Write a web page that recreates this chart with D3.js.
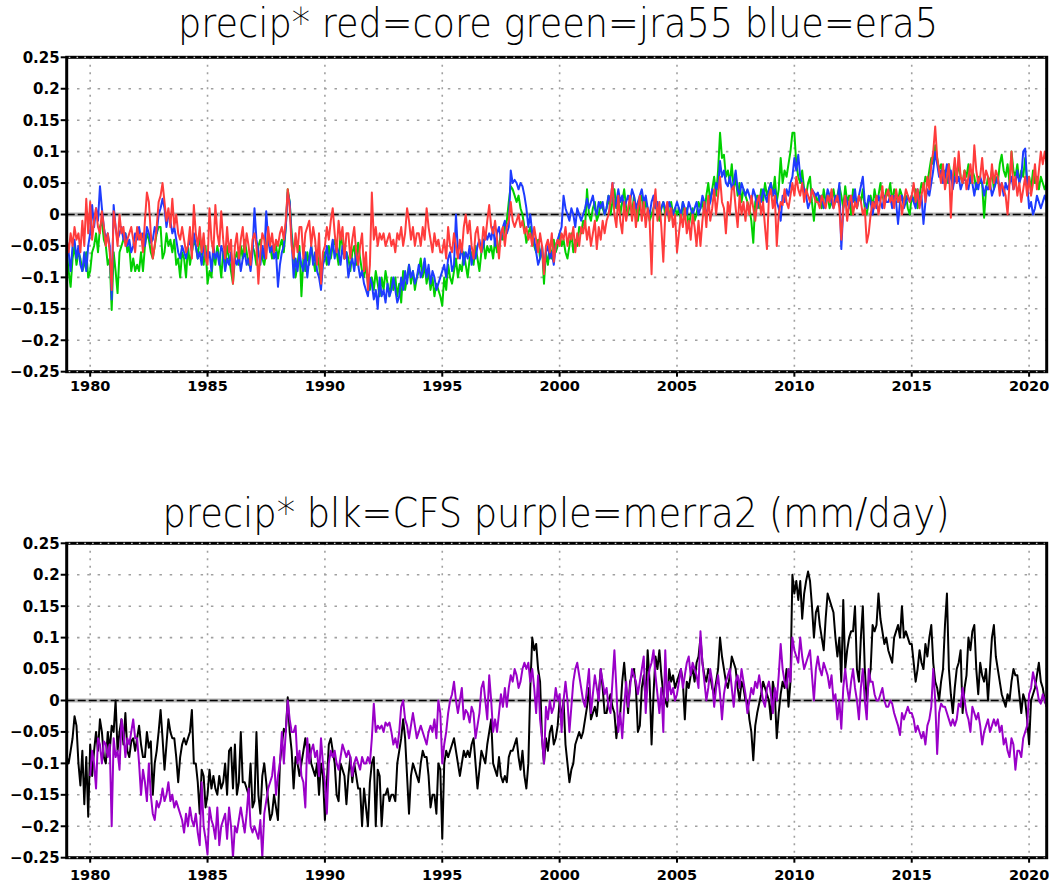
<!DOCTYPE html>
<html>
<head>
<meta charset="utf-8">
<script src="https://cdn.jsdelivr.net/npm/d3@7"></script>
<style>
  body { margin: 0; background: #fff; }
</style>
</head>
<body>
<div id="chart"></div>
<script>
// monthly precip anomalies (mm/day), Jan 1979 .. Oct 2020, one row per year
var startYear = 1979;
var yearTicks = [1980, 1985, 1990, 1995, 2000, 2005, 2010, 2015, 2020];
var valueTicks = [0.25, 0.2, 0.15, 0.1, 0.05, 0, -0.05, -0.1, -0.15, -0.2, -0.25];
var valueLabels = ["0.25", "0.2", "0.15", "0.1", "0.05", "0", "\u22120.05", "\u22120.1", "\u22120.15", "\u22120.2", "\u22120.25"];

var core = [
  -.04,-.06,-.03,-.05,-.02,-.04,-.03,-.06,-.01,-.05,.025,-.03,
  .02,-.04,-.01,.01,-.02,-.03,.005,-.02,-.05,-.03,-.06,-.12,
  .005,-.02,-.05,0,-.03,-.02,-.05,-.04,-.03,-.02,-.04,-.06,
  -.02,-.04,-.03,-.06,-.01,.035,.02,-.03,-.07,-.05,-.02,.02,
  .03,.05,.02,-.01,.01,-.02,.025,-.02,0,-.03,-.04,-.02,
  -.04,-.06,-.05,-.02,-.07,.015,-.03,-.05,-.02,-.06,-.03,-.07,
  -.08,.01,-.04,-.06,.015,-.03,-.05,.005,-.04,-.07,-.02,-.06,
  -.04,-.11,-.05,-.03,-.07,-.04,-.02,-.06,-.03,-.05,-.08,-.04,
  -.03,-.05,-.11,-.06,-.03,-.04,-.07,-.02,-.05,-.03,-.06,-.04,
  -.05,-.03,-.02,-.04,-.01,.04,.01,-.05,-.07,-.03,-.06,-.02,
  -.02,-.07,-.03,-.02,-.01,-.05,-.02,-.04,-.08,-.03,-.11,-.06,
  -.05,-.02,-.04,-.01,.01,-.03,-.06,-.01,-.04,-.02,-.07,-.03,
  -.03,-.07,-.04,-.02,-.06,-.08,-.05,-.03,-.09,-.06,-.12,-.08,
  .035,-.04,-.02,-.05,-.03,-.04,-.03,-.05,-.04,-.03,-.05,-.04,
  -.06,-.03,-.04,-.02,-.05,-.03,.01,-.01,-.04,-.02,-.05,-.03,
  -.03,-.05,-.02,-.04,.01,-.02,-.04,-.06,-.03,-.05,-.04,-.06,
  -.06,-.04,-.07,-.02,-.05,-.06,-.03,-.05,-.07,-.04,-.06,-.02,
  0,-.03,-.01,-.05,-.07,-.03,-.02,-.05,-.06,-.02,-.04,-.01,
  .015,-.02,-.03,-.01,-.04,-.07,-.03,-.02,-.05,-.02,-.01,.02,
  -.01,-.02,-.01,0,-.02,-.01,-.03,-.02,-.04,-.03,-.05,-.02,
  -.04,-.06,-.03,-.05,-.095,-.05,-.04,-.06,-.03,-.075,-.05,-.04,
  -.05,-.03,-.04,-.02,-.05,-.03,-.04,-.02,-.06,-.03,-.05,-.02,
  -.03,-.01,-.04,-.02,-.05,-.03,-.01,-.055,-.02,-.04,-.01,-.03,
  -.01,0,.02,.05,0,-.02,.03,-.01,-.03,.02,-.01,.01,
  .03,-.01,.02,-.02,.01,.03,-.01,.02,-.02,.01,-.01,-.095,
  .01,.04,-.01,.02,-.02,-.075,0,.02,-.01,.01,-.02,0,
  -.06,-.03,0,-.02,.01,-.03,-.01,-.04,0,-.02,-.05,-.01,
  -.05,-.01,.02,-.02,.03,-.01,.01,.04,0,.03,.06,.02,
  .01,-.03,.02,0,.04,.045,.01,-.02,.03,0,.02,-.01,
  .02,0,.03,.01,-.01,.02,.03,0,.02,-.02,-.055,.03,
  .04,.01,.03,-.05,0,.02,.015,.04,.02,.01,.03,.05,
  .03,.06,.04,.03,.05,.02,.04,.03,.02,.04,.03,.02,
  .02,.01,.03,.02,.01,.03,.02,.04,.01,.02,.03,.01,
  -.04,.01,.03,-.01,.02,.03,0,.02,.01,.03,.02,0,
  .01,-.045,-.03,0,.02,.01,.03,0,.02,.045,.01,.03,
  .04,.02,.03,.01,.04,.02,.03,0,.02,.04,.03,.02,
  .03,.05,.02,.04,.01,.03,.05,.02,.06,.04,.08,.1,
  .14,.09,.07,.05,.08,.04,.06,.08,-.005,.06,.09,.05,
  .1,.06,.05,.07,.04,.06,.08,.05,.11,.07,.05,.06,
  .09,.05,.07,.06,.04,.08,.05,.07,.06,.03,.05,.04,
  .03,0,.05,.1,.04,.06,.03,.05,.02,.04,.06,.03,
  .06,.03,.05,.08,.04,.07,.1,.08,.1,.08
];

var jra55 = [
  -.06,-.09,-.115,-.07,-.05,-.08,-.06,-.07,-.09,-.08,-.06,-.1,
  -.09,-.06,-.05,-.03,-.06,-.02,-.01,-.04,-.05,-.08,-.07,-.152,
  -.06,-.09,-.125,-.06,-.05,-.04,-.03,-.06,-.05,-.09,-.07,-.09,
  -.08,-.09,-.06,-.09,-.05,-.03,-.04,-.06,-.07,-.05,-.03,-.02,
  -.02,-.07,-.06,-.03,-.05,-.04,-.06,-.04,-.08,-.07,-.1,-.06,
  -.07,-.1,-.05,-.08,-.06,-.04,-.05,-.07,-.03,-.06,-.08,-.05,
  -.11,-.09,-.1,-.06,-.08,-.05,-.07,-.1,-.06,-.08,-.05,-.07,
  -.09,-.11,-.07,-.06,-.08,-.05,-.07,-.04,-.06,-.08,-.07,-.05,
  -.06,-.08,-.05,-.04,-.07,-.08,-.06,-.03,-.05,-.07,-.06,-.05,
  -.07,-.05,-.04,-.06,-.02,.04,.02,-.03,-.06,-.1,-.08,-.05,
  -.13,-.07,-.09,-.06,-.08,-.05,-.07,-.09,-.06,-.08,-.11,-.07,
  -.06,-.08,-.05,-.07,-.05,-.04,-.06,-.08,-.03,-.05,-.07,-.06,
  -.07,-.09,-.06,-.05,-.08,-.045,-.07,-.09,-.1,-.08,-.11,-.12,
  -.1,-.12,-.09,-.11,-.13,-.1,-.12,-.09,-.11,-.13,-.1,-.12,
  -.1,-.13,-.11,-.14,-.09,-.12,-.1,-.08,-.11,-.09,-.12,-.1,
  -.09,-.07,-.1,-.08,-.11,-.09,-.12,-.1,-.13,-.11,-.12,-.13,
  -.145,-.1,-.12,-.08,-.1,-.11,-.09,-.07,-.1,-.08,-.09,-.06,
  -.08,-.1,-.07,-.06,-.08,-.05,-.07,-.09,-.06,-.04,-.07,-.05,
  -.06,-.05,-.07,-.04,-.06,-.05,-.03,-.04,-.02,-.01,.02,.045,
  .04,.03,.02,.03,.01,0,-.02,-.045,-.03,-.02,-.04,-.05,
  -.06,-.04,-.07,-.05,-.11,-.06,-.08,-.05,-.07,-.04,-.06,-.05,
  -.03,-.05,-.04,-.06,-.07,-.05,-.03,-.06,-.04,-.05,-.02,-.03,
  -.01,-.02,.04,0,-.01,.01,.02,-.01,0,.02,.01,0,
  .01,.03,0,.02,.04,.01,.03,0,.02,.04,.01,0,
  .02,0,.03,.01,-.01,.02,.03,0,.02,.01,-.01,0,
  .01,.02,0,-.01,.01,.02,0,.01,-.01,.02,0,.01,
  0,.01,-.01,.02,0,.01,-.02,0,.01,-.01,0,.02,
  .01,.02,0,.03,.05,.02,.04,.06,.03,.07,.13,.09,
  .095,.06,.07,.05,.08,.04,.06,.03,.05,.02,.04,.03,
  .02,.01,-.01,-.045,.02,.03,.01,.04,.02,.05,.03,.04,
  .05,.03,.06,.02,.04,.09,.05,.07,.06,.08,.1,.13,
  .13,.08,.06,.05,.07,.04,.03,.05,.06,.02,-.01,.03,
  .02,.03,.01,.04,.02,.03,.01,.02,.04,.02,.03,.045,
  .03,.01,.045,.02,.03,0,.04,.02,.01,.03,.02,.04,
  .01,0,.02,.03,.01,.04,.02,.03,.05,.03,.02,.04,
  .03,.05,.02,.04,.03,.02,.04,.03,.02,.03,.01,0,
  .03,.02,.04,.01,.03,.05,.04,.06,.05,.07,.09,.08,
  .11,.09,.07,.08,.06,.07,.05,.08,.06,.05,.07,.06,
  .08,.06,.05,.07,.06,.08,.05,.07,.06,.04,.06,.05,
  .05,-.005,.04,.06,.05,.07,.04,.06,.05,.08,.095,.07,
  .06,.08,.05,.1,.07,.06,.08,.05,.07,.06,.09,.05,
  .06,.04,.07,.05,.06,.04,.06,.05,.04,.05
];

var era5 = [
  -.04,-.06,-.09,-.05,-.04,-.07,-.05,-.08,-.09,-.06,-.09,-.05,
  -.03,.015,-.02,.01,-.01,.045,.01,-.02,-.04,-.03,-.05,-.135,
  .015,-.02,-.04,-.03,-.02,-.04,-.03,-.05,-.04,-.06,-.05,-.03,
  -.04,-.02,-.04,-.03,-.05,-.02,-.03,-.045,-.04,-.02,-.03,0,
  .01,.025,.01,-.02,0,-.01,-.03,-.02,-.04,-.06,-.07,-.05,
  -.06,-.07,-.05,-.04,-.06,-.03,-.05,-.07,-.06,-.08,-.05,-.06,
  -.07,-.06,-.09,-.05,-.07,-.06,-.08,-.05,-.06,-.09,-.07,-.08,
  -.06,-.095,-.07,-.08,-.065,-.09,-.07,-.06,-.08,-.07,-.09,-.06,
  .01,-.04,-.06,-.08,-.05,-.07,.005,-.04,-.06,-.05,-.07,-.06,
  -.115,-.08,-.06,-.05,-.02,.035,.02,-.04,-.1,-.07,-.09,-.06,
  -.08,-.09,-.06,-.1,-.07,-.05,-.08,-.06,-.09,-.1,-.12,-.08,
  -.07,-.05,-.08,-.06,-.04,-.07,-.05,-.06,-.08,-.05,-.07,-.06,
  -.1,-.08,-.07,-.09,-.06,-.08,-.1,-.09,-.11,-.12,-.13,-.1,
  -.11,-.135,-.12,-.15,-.1,-.13,-.12,-.14,-.11,-.13,-.12,-.1,
  -.12,-.14,-.13,-.1,-.12,-.09,-.11,-.08,-.1,-.09,-.11,-.1,
  -.08,-.1,-.09,-.07,-.1,-.08,-.11,-.09,-.1,-.12,-.11,-.1,
  -.09,-.08,-.1,-.07,-.06,-.09,-.08,0,-.06,-.07,-.05,-.08,
  -.06,-.07,-.05,-.08,-.06,-.07,-.05,-.04,-.06,-.05,-.03,-.04,
  -.03,-.04,-.02,-.05,-.03,-.02,-.04,-.02,-.01,-.03,-.02,.07,
  .05,.055,.05,.04,.05,.045,.03,.01,-.02,0,-.03,-.04,
  -.06,-.08,-.07,-.05,-.09,-.06,-.05,-.07,-.06,-.08,-.05,-.04,
  -.03,-.02,.03,.01,0,-.01,.01,0,-.02,.01,0,-.01,
  0,.01,.025,.01,.02,.03,.01,0,.02,.01,.02,0,
  .01,.03,.02,.05,.01,.02,.04,.02,.03,.01,.02,.03,
  .02,.04,.03,.01,.02,.03,.04,.02,.03,.01,0,.02,
  .03,.01,.02,0,.01,.02,.01,0,.02,.01,0,.01,
  .02,.01,0,.02,.01,0,.02,.01,0,.01,.02,0,
  .01,.03,.02,0,.01,.02,.04,.03,.05,.04,.085,.06,
  .07,.05,.045,.06,.04,.05,.07,.04,.03,.05,.04,.03,
  .04,.03,.02,.04,.03,.01,.03,.02,.04,.03,.02,.04,
  .05,.03,.04,.02,.01,-.01,.03,.02,.04,.03,.05,.06,
  .09,.07,.095,.06,.05,.04,.03,.01,.02,.04,.035,.03,
  .035,.02,.03,.01,.02,.04,.03,.02,.01,.03,.02,.05,
  -.055,.01,.03,.02,.01,.03,.02,.04,.01,.03,.045,.06,
  .02,.01,.03,.02,0,.02,.01,.03,.02,.01,.03,.02,
  .02,.03,.01,.03,.02,-.015,.02,.03,.01,.02,.03,.02,
  .03,.02,.01,.04,.02,.03,-.015,.02,.04,.03,.05,.07,
  .1,.08,.06,.07,.05,.06,.08,.05,.07,.04,.06,.05,
  .06,.04,.05,.06,.05,.04,.06,.05,.03,.05,.04,.06,
  .05,.03,.045,.04,.05,.03,.04,.05,.06,.04,.05,.03,
  .05,.04,.05,.06,.04,.05,.07,.05,.06,.1,.105,.05,
  .01,.02,0,.01,.03,.02,.01,.02,.03,.02
];

var cfs = [
  -.09,-.1,-.08,-.06,-.025,-.04,-.1,-.135,-.08,-.165,-.09,-.185,
  -.07,-.12,-.08,-.05,-.08,-.03,-.05,-.09,-.1,-.05,-.08,-.04,
  -.05,0,-.08,-.05,-.03,-.07,-.02,-.08,-.09,-.065,-.06,-.08,
  -.06,-.04,-.07,-.09,-.09,-.05,-.075,-.065,-.15,-.1,-.08,-.05,
  -.015,-.06,-.11,-.07,-.03,-.05,-.06,-.06,-.09,-.13,-.09,-.07,
  -.06,-.07,-.06,-.05,-.015,-.1,-.1,-.13,-.18,-.11,-.12,-.17,
  -.15,-.11,-.14,-.12,-.14,-.15,-.12,-.14,-.13,-.1,-.15,-.08,
  -.075,-.14,-.07,-.15,-.13,-.05,-.13,-.13,-.14,-.15,-.1,-.17,
  -.16,-.05,-.15,-.18,-.12,-.1,-.13,-.16,-.19,-.18,-.15,-.17,
  -.19,-.1,-.07,-.045,-.05,.005,-.05,-.08,-.14,-.09,-.1,-.12,
  -.1,-.08,-.06,-.08,-.07,-.1,-.11,-.12,-.1,-.15,-.1,-.12,
  -.19,-.13,-.07,-.06,-.08,-.1,-.15,-.16,-.1,-.11,-.12,-.165,
  -.12,-.09,-.13,-.1,-.12,-.14,-.14,-.2,-.14,-.17,-.2,-.13,
  -.1,-.09,-.2,-.11,-.12,-.2,-.15,-.15,-.14,-.16,-.15,-.15,
  -.16,-.1,-.08,-.06,-.03,-.06,-.12,-.18,-.12,-.1,-.11,-.12,
  -.13,-.1,-.08,-.09,-.09,-.12,-.17,-.15,-.15,-.18,-.1,-.11,
  -.22,-.1,-.08,-.09,-.08,-.07,-.06,-.08,-.1,-.12,-.1,-.08,
  -.09,-.08,-.09,-.07,-.06,-.1,-.14,-.11,-.08,-.09,-.1,-.07,
  -.05,-.03,-.1,-.11,-.12,-.09,-.12,-.13,-.12,-.13,-.09,-.08,
  -.08,-.07,-.06,-.09,-.11,-.08,-.12,-.14,-.1,.02,.1,.08,
  .09,.05,.03,-.06,-.1,-.06,-.08,-.05,-.04,-.07,-.06,-.04,
  0,-.03,0,-.07,-.1,-.13,-.11,-.1,-.07,-.06,-.05,-.06,
  -.05,-.03,-.01,.02,-.03,-.02,-.01,-.025,.01,.05,.02,-.02,
  -.02,0,.01,-.01,-.02,-.06,-.03,-.02,.03,.06,.02,-.02,
  .03,.04,.05,.02,-.05,-.04,.02,.04,0,.08,.03,-.07,
  .01,.07,.05,.08,.04,.01,0,-.01,.05,.03,.04,.02,
  .03,.04,.05,.03,-.03,.03,.02,.04,.05,.03,.06,.07,
  .1,.06,.04,.03,.05,.04,.02,.01,.03,.05,.1,.07,
  .05,.03,.02,.04,.07,.06,.05,.02,0,.03,.02,0,
  0,-.03,-.05,-.095,-.04,-.02,-.005,.01,.03,.02,.01,0,
  -.03,.03,.01,-.06,-.02,.01,.03,.02,.05,-.01,.03,.2,
  .17,.19,.16,.19,.13,.17,.19,.205,.19,.15,.1,.14,
  .15,.12,.1,.08,.13,.17,.16,.15,.14,.1,.07,.1,
  .03,.16,.05,.08,.1,.11,.11,.15,.05,.03,.1,.15,
  .05,0,.03,.05,.12,.11,.12,.17,.13,.11,.09,.1,
  .08,.07,.06,.1,.11,.12,.1,.15,.1,.11,.1,.09,
  .09,.06,.03,.05,.08,.06,.05,.09,.07,.1,.12,.06,
  .03,.02,0,.03,.05,.12,.17,.05,.01,-.02,.02,.05,
  .06,.08,-.02,.02,.04,.1,.08,.11,.12,.05,.01,.06,
  .04,.03,.05,0,.05,.1,.12,.07,.05,.03,.01,0,
  -.01,.01,0,.03,.05,.04,.04,.01,-.02,.01,0,-.03,
  -.07,0,.01,.02,.04,.06,.03,.02,0,-.01
];

// merra2 begins Jan 1980
var merra2Start = 1980;
var merra2 = [
  -.12,-.08,-.1,-.14,-.06,-.07,-.1,-.065,-.07,-.09,-.07,-.2,
  -.06,-.09,-.08,-.11,-.03,-.05,-.09,-.06,-.07,-.05,-.03,-.06,
  -.06,-.1,-.15,-.11,-.13,-.16,-.1,-.15,-.18,-.19,-.16,-.17,
  -.16,-.14,-.16,-.15,-.13,-.16,-.15,-.17,-.16,-.17,-.18,-.19,
  -.21,-.18,-.2,-.17,-.19,-.2,-.18,-.21,-.23,-.13,-.2,-.22,
  -.245,-.17,-.19,-.2,-.22,-.17,-.23,-.2,-.19,-.18,-.22,-.17,
  -.2,-.25,-.2,-.21,-.19,-.17,-.19,-.21,-.18,-.14,-.2,-.21,
  -.2,-.21,-.22,-.19,-.25,-.18,-.16,-.14,-.13,-.12,-.09,-.15,
  -.12,-.1,-.05,-.1,-.05,0,-.03,-.05,-.05,-.04,-.1,-.08,
  -.12,-.13,-.17,-.06,-.1,-.08,-.07,-.09,-.08,-.12,-.06,-.1,
  -.13,-.18,-.1,-.08,-.09,-.08,-.1,-.11,-.09,-.07,-.08,-.09,
  -.08,-.09,-.12,-.1,-.09,-.1,-.11,-.09,-.1,-.1,-.09,-.1,
  -.06,-.005,-.05,-.04,-.045,-.04,-.05,-.035,-.04,-.035,-.05,-.07,
  -.06,-.075,-.05,-.01,0,-.03,-.04,-.06,-.04,-.02,-.04,-.06,
  -.05,-.04,-.05,-.06,-.07,-.05,-.04,-.05,-.03,-.06,0,-.02,
  -.1,-.07,-.05,-.02,0,.01,.03,0,-.02,0,.02,-.03,
  -.015,-.02,-.035,-.01,-.02,-.06,-.04,-.02,.02,.03,0,-.03,
  .04,0,-.05,-.03,-.05,-.02,.01,-.01,.02,-.01,.02,.04,
  .03,.05,.04,.02,.03,.05,.06,.05,.06,.03,.05,.02,
  -.02,.04,-.03,-.06,-.1,-.01,-.03,0,-.02,-.01,.02,0,
  .01,-.05,0,.03,0,-.05,-.01,.03,.05,.06,.04,.02,
  0,-.01,.02,.05,-.02,.01,.04,.02,0,.05,.03,.01,
  .02,-.01,-.02,.03,.08,.02,-.05,-.02,-.06,-.01,.03,-.01,
  .02,.05,.04,.03,.01,.03,.05,.07,-.02,.03,.05,.06,
  .08,.04,.01,-.02,.02,-.05,.08,0,.03,.01,.02,0,
  .01,.03,.05,.02,.04,.06,.07,.04,.06,.05,.04,.02,
  .11,.06,.03,0,.02,.05,.03,-.01,.02,.04,.01,-.03,
  .01,.03,.04,.05,.02,-.01,.03,.04,.02,.05,.03,.01,
  -.02,0,.02,.01,.03,.02,.04,.02,0,-.01,.02,.03,
  .01,-.02,.02,0,.04,.09,.05,.03,.02,.05,.03,.1,
  .08,.07,.06,.1,.07,.05,.06,.07,.08,.04,0,.05,
  .07,.05,.04,.06,.05,.04,.02,.04,0,.01,-.03,0,
  -.045,.02,.05,.02,0,.03,.05,.02,0,-.03,.02,.05,
  0,-.03,.05,.03,.03,.01,0,0,.01,.02,0,-.01,
  -.01,0,-.005,-.02,-.03,-.04,-.055,-.02,-.03,-.02,-.01,-.02,
  -.02,-.03,-.05,-.04,-.05,-.06,-.05,-.07,-.04,-.03,-.01,.05,
  0,-.085,-.02,-.005,-.01,-.01,-.02,-.03,-.04,-.03,-.04,-.03,
  -.005,-.01,.02,0,-.02,-.03,-.05,-.01,-.02,-.03,-.02,-.04,
  -.07,-.05,-.04,-.03,-.05,-.04,-.03,-.04,-.03,-.05,-.04,-.07,
  -.06,-.08,-.09,-.06,-.07,-.11,-.08,-.08,-.09,-.06,-.05,-.04,
  .01,.02,.045,.03,.02,0,-.005,.01,0,-.01
];

var width = 1049, height = 884,
    left = 66.7, right = 1046.7, plotH = 314.4,
    nMonths = core.length;

var svg = d3.select("#chart").append("svg")
    .attr("width", width)
    .attr("height", height)
    .style("background", "#fff");

var x = d3.scaleLinear().domain([0, nMonths - 1]).range([left, right]);

var panels = [
  { top: 57.3, title: "precip* red=core green=jra55 blue=era5", titleX: 558, titleY: 37, titleW: 760, labelY: 14,
    series: [
      { values: jra55, start: startYear, color: "#00d000" },
      { values: era5, start: startYear, color: "#1e3cff" },
      { values: core, start: startYear, color: "#ff3c3c" }
    ] },
  { top: 543.3, title: "precip* blk=CFS purple=merra2 (mm/day)", titleX: 556, titleY: 527, titleW: 787, labelY: 17,
    series: [
      { values: cfs, start: startYear, color: "#000000" },
      { values: merra2, start: merra2Start, color: "#9a00c8" }
    ] }
];

panels.forEach(function (p, pi) {
  var y = d3.scaleLinear().domain([-0.25, 0.25]).range([p.top + plotH, p.top]);
  var g = svg.append("g");

  g.append("clipPath").attr("id", "clip" + pi)
    .append("rect")
      .attr("x", left).attr("y", p.top)
      .attr("width", right - left).attr("height", plotH);

  // title
  g.append("text")
    .attr("x", p.titleX).attr("y", p.titleY)
    .attr("text-anchor", "middle")
    .attr("textLength", p.titleW)
    .attr("lengthAdjust", "spacingAndGlyphs")
    .style("font-family", "'DejaVu Sans', sans-serif")
    .style("font-weight", 200)
    .style("font-size", "41px")
    .text(p.title);

  // dotted grid
  g.append("g").selectAll("line")
    .data(valueTicks.filter(function (v) { return v !== 0 && Math.abs(v) < 0.25; }))
    .enter().append("line")
      .attr("x1", left).attr("x2", right)
      .attr("y1", function (d) { return y(d); }).attr("y2", function (d) { return y(d); })
      .attr("stroke", "#a0a0a0").attr("stroke-width", 1.6)
      .attr("stroke-dasharray", "2.5,7.8");

  g.append("g").selectAll("line")
    .data(yearTicks)
    .enter().append("line")
      .attr("x1", function (d) { return x((d - startYear) * 12); })
      .attr("x2", function (d) { return x((d - startYear) * 12); })
      .attr("y1", p.top).attr("y2", p.top + plotH)
      .attr("stroke", "#a0a0a0").attr("stroke-width", 1.6)
      .attr("stroke-dasharray", "2,5.5");

  // zero line: gray band with black dashes
  g.append("line")
    .attr("x1", left).attr("x2", right).attr("y1", y(0)).attr("y2", y(0))
    .attr("stroke", "#b4b4b4").attr("stroke-width", 4);
  g.append("line")
    .attr("x1", left).attr("x2", right).attr("y1", y(0)).attr("y2", y(0))
    .attr("stroke", "#000").attr("stroke-width", 1.6)
    .attr("stroke-dasharray", "8,3");

  // series
  var lines = g.append("g").attr("clip-path", "url(#clip" + pi + ")");
  p.series.forEach(function (s) {
    var offset = (s.start - startYear) * 12;
    var line = d3.line()
      .x(function (d, i) { return x(i + offset); })
      .y(function (d) { return y(d); });
    lines.append("path")
      .datum(s.values)
      .attr("fill", "none")
      .attr("stroke", s.color)
      .attr("stroke-width", 2)
      .attr("stroke-linejoin", "round")
      .attr("d", line);
  });

  // frame
  g.append("rect")
    .attr("x", left).attr("y", p.top)
    .attr("width", right - left).attr("height", plotH)
    .attr("fill", "none").attr("stroke", "#000").attr("stroke-width", 3);
  [p.top, p.top + plotH].forEach(function (yy) {
    g.append("line")
      .attr("x1", left + 2).attr("x2", right - 2).attr("y1", yy).attr("y2", yy)
      .attr("stroke", "#c8c8c8").attr("stroke-width", 1.2)
      .attr("stroke-dasharray", "1.6,6.2");
  });

  // y axis ticks and labels
  var ya = g.append("g").selectAll("g")
    .data(valueTicks)
    .enter().append("g")
      .attr("transform", function (d) { return "translate(0," + y(d) + ")"; });
  ya.append("line")
    .attr("x1", left - 6).attr("x2", left).attr("stroke", "#000").attr("stroke-width", 2);
  ya.append("text")
    .attr("x", left - 7).attr("dy", "0.36em")
    .attr("text-anchor", "end")
    .style("font-family", "'DejaVu Sans', sans-serif")
    .style("font-weight", "bold")
    .style("font-size", "15px")
    .text(function (d, i) { return valueLabels[i]; });

  // x axis ticks and labels
  var xa = g.append("g").selectAll("g")
    .data(yearTicks)
    .enter().append("g")
      .attr("transform", function (d) { return "translate(" + x((d - startYear) * 12) + "," + (p.top + plotH) + ")"; });
  xa.append("line")
    .attr("y1", 0).attr("y2", 5).attr("stroke", "#000").attr("stroke-width", 2);
  xa.append("text")
    .attr("y", p.labelY).attr("dy", "0.36em")
    .attr("text-anchor", "middle")
    .style("font-family", "'DejaVu Sans', sans-serif")
    .style("font-weight", "bold")
    .style("font-size", "14.5px")
    .text(function (d) { return d; });
});
</script>
</body>
</html>
